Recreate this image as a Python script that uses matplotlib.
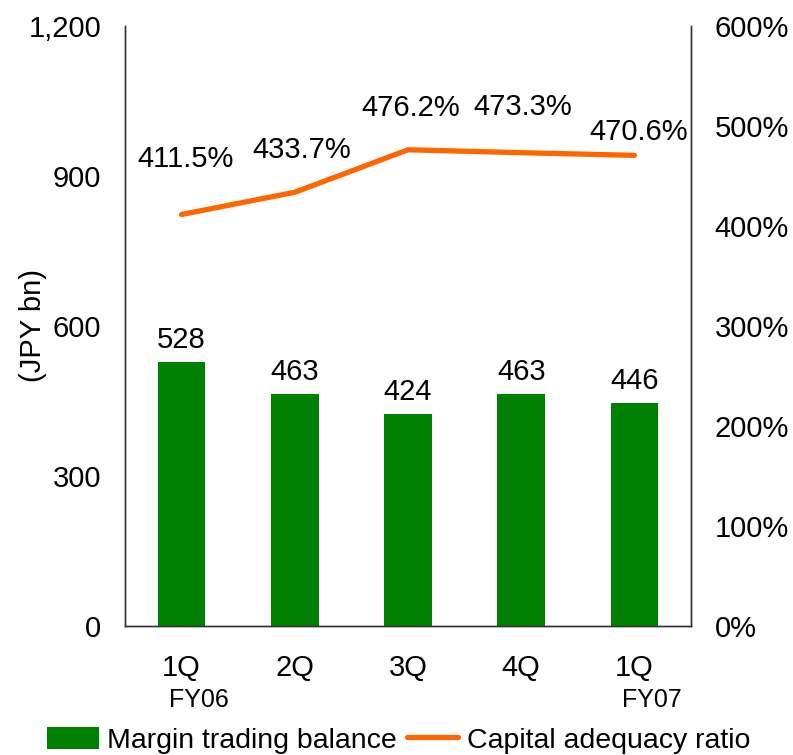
import numpy as np
import matplotlib
matplotlib.use('Agg')
import matplotlib.pyplot as plt
from matplotlib.ticker import FuncFormatter

plt.rcParams['font.family'] = ['Liberation Sans', 'DejaVu Sans']

quarters = ['1Q', '2Q', '3Q', '4Q', '1Q']
fiscal_years = ['FY06', '', '', '', 'FY07']
margin_balance = [528, 463, 424, 463, 446]          # JPY bn
capital_ratio = [411.5, 433.7, 476.2, 473.3, 470.6]  # %

# per-label nudges for the ratio annotations (points)
ratio_label_dx = [3, 5, 2, 1, 3]
ratio_label_dy = [30, 20, 20, 23, 7]

green = '#008000'
orange = '#FF6600'
fs = 21

fig = plt.figure(figsize=(7.93, 7.55), dpi=100)
ax = fig.add_axes([0.1576, 0.1709, 0.7138, 0.7947])
ax2 = ax.twinx()

x = np.arange(len(quarters))
bars = ax.bar(x, margin_balance, width=0.42, color=green, label='Margin trading balance', zorder=2)
for xi, v in zip(x, margin_balance):
    ax.annotate(f'{v}', (xi, v), xytext=(0, 6), textcoords='offset points',
                ha='center', va='bottom', fontsize=fs)

line, = ax2.plot(x, capital_ratio, color=orange, lw=3.8, solid_capstyle='round',
                 label='Capital adequacy ratio')
for xi, v, dx, dy in zip(x, capital_ratio, ratio_label_dx, ratio_label_dy):
    ax2.annotate(f'{v:.1f}%', (xi, v), xytext=(dx, dy), textcoords='offset points',
                 ha='center', va='bottom', fontsize=fs)

ax.set_xlim(-0.5, len(quarters) - 0.5)
ax.set_ylim(0, 1200)
ax.set_yticks(np.arange(0, 1201, 300))
ax.yaxis.set_major_formatter(FuncFormatter(lambda v, p: f'{int(v):,}'))
ax2.set_ylim(0, 600)
ax2.set_yticks(np.arange(0, 601, 100))
ax2.yaxis.set_major_formatter(FuncFormatter(lambda v, p: f'{int(v)}%'))

ax.set_xticks(x)
ax.set_xticklabels(quarters, fontsize=fs)
ax.tick_params(axis='x', length=0, pad=20)
ax.tick_params(axis='y', length=0, pad=17, labelsize=fs)
ax2.tick_params(axis='y', length=0, pad=17, labelsize=fs)

for xi, fy in zip(x, fiscal_years):
    if fy:
        ax.text(xi + 0.15, -0.123, fy, transform=ax.get_xaxis_transform(),
                ha='center', va='center', fontsize=18)

ax.set_ylabel('(JPY bn)', fontsize=fs)
ax.yaxis.set_label_coords(-0.137, 0.5)

for a in (ax, ax2):
    a.spines['top'].set_visible(False)
    for s in ('left', 'right', 'bottom'):
        a.spines[s].set_color('#333333')
        a.spines[s].set_linewidth(1.0)

fig.legend([bars, line], ['Margin trading balance', 'Capital adequacy ratio'],
           loc='lower center', bbox_to_anchor=(0.503, -0.032), ncol=2, frameon=False,
           fontsize=20.5, handlelength=1.8, handleheight=0.8, handletextpad=0.3,
           columnspacing=0.35)

fig.savefig('out.png', dpi=100, facecolor='white')
